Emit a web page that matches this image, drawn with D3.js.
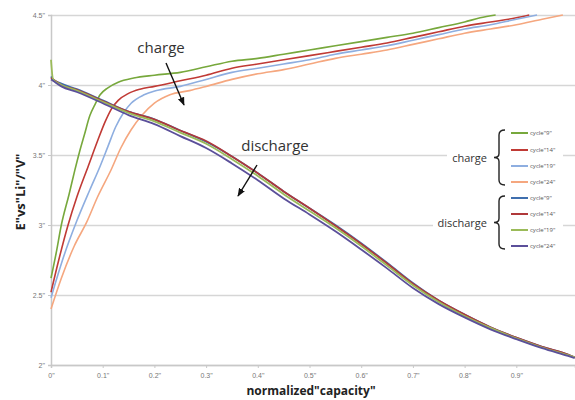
<!DOCTYPE html>
<html>
<head>
<meta charset="utf-8">
<script src="https://cdn.jsdelivr.net/npm/d3@7"></script>
<style>
  body { margin: 0; background: #fff; }
  svg { display: block; font-family: "Open Sans", sans-serif; }
</style>
</head>
<body>
<svg width="575" height="400"></svg>
<script>
// tick values
const xTicks = [0, 0.1, 0.2, 0.3, 0.4, 0.5, 0.6, 0.7, 0.8, 0.9];
const yTicks = [2, 2.5, 3, 3.5, 4, 4.5];
const cycles = ['cycle"9"', 'cycle"14"', 'cycle"19"', 'cycle"24"'];

// charge curves, [capacity, volts]
const charge9 = [[0,2.62],[0.01,2.8],[0.02,3.0],[0.035,3.22],[0.046,3.39],[0.055,3.52],[0.065,3.65],[0.075,3.78],[0.085,3.86],[0.095,3.93],[0.11,3.98],[0.13,4.02],[0.16,4.05],[0.2,4.07],[0.25,4.09],[0.3,4.13],[0.35,4.17],[0.4,4.19],[0.45,4.22],[0.5,4.25],[0.55,4.28],[0.6,4.31],[0.65,4.34],[0.7,4.37],[0.75,4.41],[0.8,4.45],[0.83,4.48],[0.86,4.5]];
const charge14 = [[0,2.52],[0.015,2.75],[0.033,3.0],[0.05,3.2],[0.072,3.42],[0.09,3.6],[0.105,3.74],[0.117,3.83],[0.13,3.89],[0.15,3.94],[0.172,3.97],[0.2,3.99],[0.25,4.03],[0.3,4.07],[0.35,4.12],[0.4,4.15],[0.45,4.18],[0.5,4.21],[0.55,4.24],[0.6,4.27],[0.65,4.3],[0.7,4.34],[0.75,4.38],[0.8,4.42],[0.85,4.45],[0.9,4.48],[0.925,4.5]];
const charge19 = [[0,2.48],[0.025,2.78],[0.05,3.03],[0.075,3.25],[0.095,3.42],[0.11,3.56],[0.125,3.7],[0.14,3.8],[0.155,3.87],[0.18,3.93],[0.204,3.96],[0.25,3.99],[0.3,4.04],[0.35,4.09],[0.4,4.12],[0.45,4.15],[0.5,4.18],[0.55,4.22],[0.6,4.25],[0.65,4.28],[0.7,4.32],[0.75,4.36],[0.8,4.4],[0.85,4.43],[0.9,4.47],[0.94,4.5]];
const charge24 = [[0,2.4],[0.02,2.62],[0.045,2.85],[0.069,3.02],[0.09,3.2],[0.117,3.4],[0.135,3.55],[0.155,3.68],[0.175,3.78],[0.2,3.87],[0.23,3.93],[0.268,3.96],[0.3,3.99],[0.35,4.04],[0.4,4.08],[0.45,4.11],[0.5,4.15],[0.55,4.19],[0.6,4.22],[0.65,4.25],[0.7,4.29],[0.75,4.33],[0.8,4.37],[0.85,4.4],[0.9,4.43],[0.95,4.47],[0.99,4.5]];

// discharge curves share capacity points
const dischargeX = [0, 0.004, 0.02, 0.05, 0.1, 0.15, 0.2, 0.25, 0.3, 0.35, 0.4, 0.45, 0.5, 0.55, 0.6, 0.65, 0.7, 0.75, 0.8, 0.85, 0.9, 0.95, 1.0, 1.013];
const discharge9  = [4.06, 4.04, 4.01, 3.97, 3.89, 3.81, 3.755, 3.675, 3.595, 3.49, 3.37, 3.24, 3.12, 3.0, 2.87, 2.73, 2.585, 2.46, 2.36, 2.27, 2.195, 2.13, 2.075, 2.055];
const discharge14 = [4.05, 4.04, 4.0, 3.965, 3.885, 3.81, 3.755, 3.675, 3.6, 3.49, 3.37, 3.24, 3.12, 2.995, 2.865, 2.725, 2.58, 2.46, 2.36, 2.27, 2.195, 2.13, 2.075, 2.055];
const discharge19 = [4.18, 4.04, 4.0, 3.96, 3.88, 3.8, 3.74, 3.66, 3.58, 3.47, 3.35, 3.22, 3.1, 2.98, 2.85, 2.71, 2.57, 2.45, 2.35, 2.265, 2.19, 2.125, 2.07, 2.055];
const discharge24 = [4.04, 4.03, 3.99, 3.95, 3.87, 3.785, 3.72, 3.635, 3.55, 3.44, 3.32, 3.19, 3.075, 2.955, 2.825, 2.69, 2.55, 2.435, 2.34, 2.255, 2.185, 2.12, 2.065, 2.05];

const chargeColors = ['#77a83c', '#c03a35', '#8eaee0', '#f5a77f'];
const dischargeColors = ['#3f6fae', '#b0383a', '#9bbb59', '#5b4f9a'];

const svg = d3.select('svg');
const mLeft = 51, mRight = 575, mTop = 15, mBottom = 365;

const x = d3.scaleLinear().domain([0, 1.0135]).range([mLeft, mRight]);
const y = d3.scaleLinear().domain([2, 4.5]).range([mBottom, mTop]);

// grid
svg.append('g')
  .attr('transform', `translate(${mLeft},0)`)
  .call(d3.axisLeft(y).tickValues(yTicks).tickSize(-(mRight - mLeft)).tickFormat(''))
  .call(g => g.select('.domain').remove())
  .call(g => g.selectAll('line').attr('stroke', '#d6d6d6').attr('stroke-width', 1.5));

// axes
const yAxis = svg.append('g')
  .attr('transform', `translate(${mLeft},0)`)
  .call(d3.axisLeft(y).tickValues(yTicks).tickSize(3).tickPadding(3).tickFormat(d => d + '"'));
const xAxis = svg.append('g')
  .attr('transform', `translate(0,${mBottom})`)
  .call(d3.axisBottom(x).tickValues(xTicks).tickSize(3).tickPadding(5).tickFormat(d => d + '"'));
[yAxis, xAxis].forEach(g => {
  g.select('.domain').attr('stroke', '#c8c8c8').attr('stroke-width', 1.5);
  g.selectAll('line').attr('stroke', '#c8c8c8');
  g.selectAll('text').attr('fill', '#777').style('font-size', '7px');
});

// lines
const line = d3.line().x(d => x(d[0])).y(d => y(d[1])).curve(d3.curveMonotoneX);
[charge9, charge14, charge19, charge24].forEach((s, i) => {
  svg.append('path').datum(s)
    .attr('fill', 'none').attr('stroke', chargeColors[i]).attr('stroke-width', 1.6)
    .attr('d', line);
});
[discharge9, discharge14, discharge19, discharge24].forEach((s, i) => {
  svg.append('path').datum(dischargeX.map((c, j) => [c, s[j]]))
    .attr('fill', 'none').attr('stroke', dischargeColors[i]).attr('stroke-width', 1.8)
    .attr('d', line);
});

// annotations
svg.append('defs').append('marker')
  .attr('id', 'head').attr('viewBox', '0 0 10 10').attr('refX', 9).attr('refY', 5)
  .attr('markerWidth', 6).attr('markerHeight', 6).attr('orient', 'auto')
  .append('path').attr('d', 'M0,1 L10,5 L0,9 Z').attr('fill', '#111');

svg.append('text').attr('x', 161).attr('y', 53).attr('text-anchor', 'middle')
  .style('font-size', '15px').attr('fill', '#333').text('charge');
svg.append('line').attr('x1', 166).attr('y1', 63).attr('x2', 184).attr('y2', 105)
  .attr('stroke', '#111').attr('stroke-width', 1.4).attr('marker-end', 'url(#head)');
svg.append('text').attr('x', 275).attr('y', 151).attr('text-anchor', 'middle')
  .style('font-size', '15px').attr('fill', '#333').text('discharge');
svg.append('line').attr('x1', 257).attr('y1', 165).attr('x2', 238).attr('y2', 196)
  .attr('stroke', '#111').attr('stroke-width', 1.4).attr('marker-end', 'url(#head)');

// axis titles
svg.append('text').attr('x', 311).attr('y', 395).attr('text-anchor', 'middle')
  .style('font-size', '12px').style('font-weight', 'bold').attr('fill', '#222')
  .text('normalized"capacity"');
svg.append('text').attr('transform', 'translate(25,192) rotate(-90)').attr('text-anchor', 'middle')
  .style('font-size', '13px').style('font-weight', 'bold').attr('fill', '#222')
  .text('E"vs"Li"/"V"');

// legend
const legend = svg.append('g');
legend.append('rect').attr('x', 447).attr('y', 126).attr('width', 116).attr('height', 128).attr('fill', '#fff');
legend.append('rect').attr('x', 433).attr('y', 214).attr('width', 20).attr('height', 16).attr('fill', '#fff');

const groups = [
  { name: 'charge', colors: chargeColors, y0: 130, rows: [133, 150, 166, 182], tx: 487 },
  { name: 'discharge', colors: dischargeColors, y0: 196, rows: [198, 214, 230, 246], tx: 487 }
];
groups.forEach(gr => {
  const t = gr.y0, b = gr.rows[3] + 3, m = (t + b) / 2;
  legend.append('text').attr('x', gr.tx).attr('y', m + 4).attr('text-anchor', 'end')
    .style('font-size', '11px').attr('fill', '#333').text(gr.name);
  legend.append('path')
    .attr('d', `M505,${t} Q499,${t} 499,${t + 5} L499,${m - 4} Q499,${m} 494,${m} Q499,${m} 499,${m + 4} L499,${b - 5} Q499,${b} 505,${b}`)
    .attr('fill', 'none').attr('stroke', '#222').attr('stroke-width', 1.4);
  gr.rows.forEach((ry, i) => {
    legend.append('line').attr('x1', 511).attr('x2', 528).attr('y1', ry).attr('y2', ry)
      .attr('stroke', gr.colors[i]).attr('stroke-width', 2);
    legend.append('text').attr('x', 530).attr('y', ry + 2)
      .style('font-size', '6px').attr('fill', '#555').text(cycles[i]);
  });
});
</script>
</body>
</html>
